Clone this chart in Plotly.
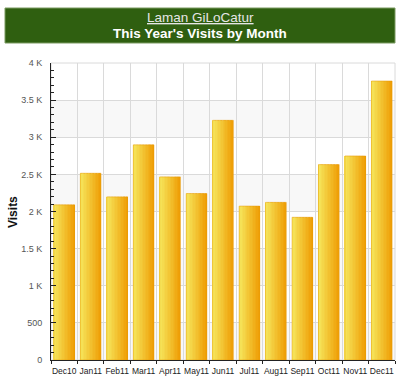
import plotly.graph_objects as go

months = ["Dec10", "Jan11", "Feb11", "Mar11", "Apr11", "May11", "Jun11",
          "Jul11", "Aug11", "Sep11", "Oct11", "Nov11", "Dec11"]
visits = [2090, 2515, 2197, 2898, 2466, 2242, 3228, 2073, 2123, 1922, 2632, 2748, 3758]
tick_vals = [0, 500, 1000, 1500, 2000, 2500, 3000, 3500, 4000]
tick_text = ["0", "500", "1 K", "1.5 K", "2 K", "2.5 K", "3 K", "3.5 K", "4 K"]
site_name = "Laman GiLoCatur"
chart_title = "This Year's Visits by Month"

fig = go.Figure()

# gradient bars drawn as adjacent strips (yellow on the left -> orange on the right)
N = 14
bar_w = 0.78
sw = bar_w / N
c0 = (246, 230, 92)
c1 = (239, 160, 8)
for i in range(N):
    t = i / (N - 1)
    col = tuple(round(c0[k] + (c1[k] - c0[k]) * t) for k in range(3))
    off = -bar_w / 2 + i * sw
    wid = sw * 1.3 if i < N - 1 else sw
    fig.add_trace(go.Bar(
        x=months, y=visits,
        offset=off, width=wid,
        marker=dict(color="rgb(%d,%d,%d)" % col, line=dict(width=0)),
        hoverinfo="skip" if i else None,
        showlegend=False,
    ))
# thin outline
fig.add_trace(go.Bar(
    x=months, y=visits, offset=-bar_w / 2, width=bar_w,
    marker=dict(color="rgba(0,0,0,0)", line=dict(color="rgba(230,150,0,0.6)", width=0.8)),
    showlegend=False, hoverinfo="skip",
))

H_PLOT = 381 - 63 - 21
def py(pix):
    return (360 - pix) / H_PLOT

# alternating bands
shapes = []
for k in range(0, len(tick_vals) - 1, 2):
    shapes.append(dict(type="rect", xref="paper", yref="y", x0=0, x1=1,
                       y0=tick_vals[k], y1=tick_vals[k + 1],
                       fillcolor="#f8f8f8", line=dict(width=0), layer="below"))
# title banner
shapes.append(dict(type="rect", xref="paper", yref="paper",
                   x0=-46 / 344, x1=1.0, y0=py(43), y1=py(8),
                   fillcolor="#2f5f10", line=dict(color="#7a9a60", width=1), layer="below"))
# frame
shapes.append(dict(type="rect", xref="paper", yref="paper", x0=0, x1=1, y0=0, y1=1,
                   line=dict(color="#dadada", width=1), layer="below"))

annotations = [
    dict(text="<u>%s</u>" % site_name, xref="paper", yref="paper", x=(200 - 51) / 344, y=py(17),
         xanchor="center", yanchor="middle", showarrow=False,
         font=dict(family="Liberation Sans, Arial", size=13.5, color="#e6e6e6")),
    dict(text="<b>%s</b>" % chart_title, xref="paper", yref="paper", x=(200 - 51) / 344, y=py(33),
         xanchor="center", yanchor="middle", showarrow=False,
         font=dict(family="Liberation Sans, Arial", size=13.5, color="white")),
    dict(text="<b>Visits</b>", xref="paper", yref="paper", x=(13 - 51) / 344, y=py(212),
         xanchor="center", yanchor="middle", showarrow=False, textangle=-90,
         font=dict(family="Liberation Sans, Arial", size=12, color="#111")),
]

fig.update_layout(
    width=400, height=381,
    margin=dict(l=51, r=5, t=63, b=21, autoexpand=False),
    paper_bgcolor="white", plot_bgcolor="white",
    barmode="overlay",
    shapes=shapes,
    annotations=annotations,
    font=dict(family="Liberation Sans, Arial", size=8, color="#222"),
)
fig.update_xaxes(
    type="category", tickson="boundaries", showgrid=True, gridcolor="#dadada",
    ticks="outside", ticklen=3, tickcolor="#222", tickangle=0, ticklabelstandoff=3,
    showline=True, linecolor="#222", linewidth=1, mirror=False,
    tickfont=dict(family="Liberation Sans, Arial", size=8.5, color="#222"),
    fixedrange=True, automargin=False,
)
fig.update_yaxes(
    range=[0, 4000], tickvals=tick_vals, ticktext=tick_text,
    showgrid=True, gridcolor="#dadada",
    ticks="inside", ticklen=5, tickcolor="#222", ticklabelstandoff=6,
    minor=dict(dtick=100, ticks="inside", ticklen=3, tickcolor="#222", showgrid=False),
    showline=True, linecolor="#222", linewidth=1,
    tickfont=dict(family="Liberation Sans, Arial", size=9, color="#555"),
    zeroline=False, fixedrange=True, automargin=False,
)

fig.write_html("out.html", config={"displayModeBar": False},
               post_script="document.body.style.margin='0';document.body.style.padding='0';")
